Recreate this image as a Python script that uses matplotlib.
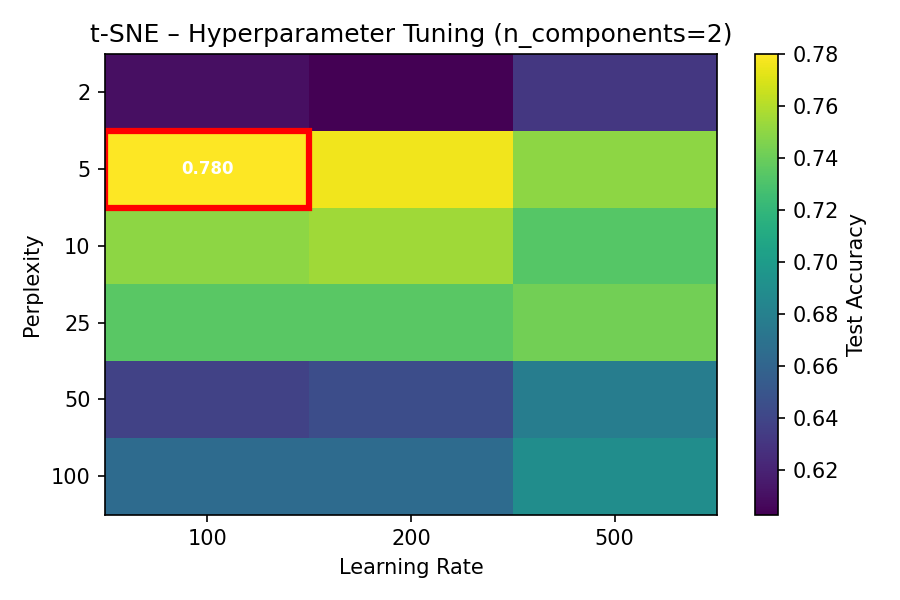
import matplotlib
matplotlib.use("Agg")
import matplotlib.pyplot as plt
import numpy as np
from matplotlib.patches import Rectangle

perplexities = [2, 5, 10, 25, 50, 100]
learning_rates = [100, 200, 500]
acc_lr100 = [0.610, 0.780, 0.750, 0.735, 0.638, 0.665]
acc_lr200 = [0.603, 0.776, 0.755, 0.735, 0.645, 0.665]
acc_lr500 = [0.632, 0.750, 0.733, 0.742, 0.678, 0.690]

data = np.array([acc_lr100, acc_lr200, acc_lr500]).T

fig, ax = plt.subplots(figsize=(6, 4), dpi=150)
im = ax.imshow(data, cmap="viridis", aspect="auto")
ax.set_xticks(range(len(learning_rates)))
ax.set_xticklabels([str(v) for v in learning_rates])
ax.set_yticks(range(len(perplexities)))
ax.set_yticklabels([str(v) for v in perplexities])
ax.set_xlabel("Learning Rate")
ax.set_ylabel("Perplexity")
ax.set_title("t-SNE – Hyperparameter Tuning (n_components=2)")
cb = fig.colorbar(im, ax=ax)
cb.set_label("Test Accuracy")

i, j = np.unravel_index(np.argmax(data), data.shape)
ax.add_patch(Rectangle((j - 0.5, i - 0.5), 1, 1, fill=False, edgecolor="red", linewidth=3))
ax.text(j, i, f"{data[i, j]:.3f}", ha="center", va="center", color="white", fontweight="bold", fontsize=8)

plt.tight_layout()
fig.savefig("out.png", dpi=150)
